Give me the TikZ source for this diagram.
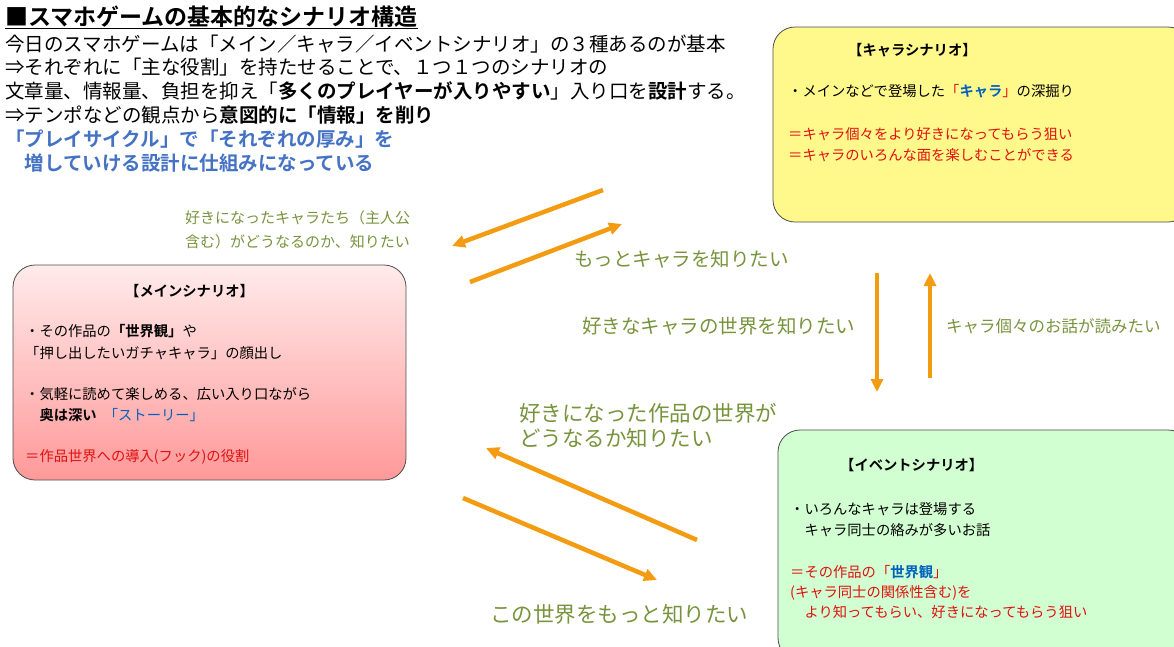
\documentclass[tikz,border=0pt]{standalone}
\usepackage{fontspec}
\setmainfont{Noto Sans CJK JP}[BoldFont={Noto Sans CJK JP Bold}]
\usepackage{tikz}
\usetikzlibrary{arrows.meta,positioning}
\definecolor{orangearr}{HTML}{F39C12}
\definecolor{greentxt}{HTML}{77933C}
\definecolor{bluetxt}{HTML}{4472C4}
\definecolor{redtxt}{HTML}{E01010}
\definecolor{bluebold}{HTML}{0060C0}
\begin{document}
\begin{tikzpicture}[x=1pt,y=-1pt,>={Triangle[length=13pt,width=12pt]}]

   \tikzstyle{txt}=[anchor=base west,inner sep=0pt,font=\fontsize{19.5}{22}\selectfont]
   \tikzstyle{btxt}=[anchor=base west,inner sep=0pt,font=\fontsize{14.3}{17}\selectfont]
   \tikzstyle{lbl}=[anchor=base west,inner sep=0pt,text=greentxt]
   \tikzstyle{flow}=[->,draw=orangearr,line width=4.5pt]
   \tikzstyle{scen}=[draw=black!70,rounded corners=22pt,line width=0.8pt]

   % page frame
   \useasboundingbox (0,0) rectangle (1174,646);

   % title and notes
   \node[txt,font=\fontsize{23}{26}\selectfont\bfseries] (title) at (5,25) {\underline{■スマホゲームの基本的なシナリオ構造}};
   \node[txt] (l1) at (5,51) {今日のスマホゲームは「メイン／キャラ／イベントシナリオ」の３種あるのが基本};
   \node[txt] (l2) at (5,74) {⇒それぞれに「主な役割」を持たせることで、１つ１つのシナリオの};
   \node[txt] (l3) at (5,98) {文章量、情報量、負担を抑え「\textbf{多くのプレイヤーが入りやすい}」入り口を\textbf{設計}する。};
   \node[txt] (l4) at (5,122) {⇒テンポなどの観点から\textbf{意図的に「情報」を削り}};
   \node[txt,text=bluetxt,font=\fontsize{19.5}{22}\selectfont\bfseries] (l5) at (5,146) {「プレイサイクル」で「それぞれの厚み」を};
   \node[txt,text=bluetxt,font=\fontsize{19.5}{22}\selectfont\bfseries] (l6) at (5,170) {\hspace{1em}増していける設計に仕組みになっている};

   % scenario boxes
   \draw[scen,fill=yellow!45] (773,27) rectangle (1190,222);
   \shade[scen,top color=red!8,bottom color=red!40] (13,265) rectangle (406,480);
   \draw[scen,fill=green!18] (778,430) rectangle (1190,660);

   % chara scenario
   \node[btxt,font=\fontsize{14.3}{17}\selectfont\bfseries] (chara) at (848,55) {【キャラシナリオ】};
   \node[btxt] (c1) at (788,96) {・メインなどで登場した{\color{redtxt}「}\textbf{\color{bluebold}キャラ}{\color{redtxt}」}の深掘り};
   \node[btxt,text=redtxt] (c2) at (788,139) {＝キャラ個々をより好きになってもらう狙い};
   \node[btxt,text=redtxt] (c3) at (788,160) {＝キャラのいろんな面を楽しむことができる};

   % main scenario
   \node[btxt,font=\fontsize{14.3}{17}\selectfont\bfseries] (main) at (125,296) {【メインシナリオ】};
   \node[btxt] (m1) at (25,336) {・その作品の\textbf{「世界観」}や};
   \node[btxt] (m2) at (25,358) {「押し出したいガチャキャラ」の顔出し};
   \node[btxt] (m3) at (25,399) {・気軽に読めて楽しめる、広い入り口ながら};
   \node[btxt] (m4) at (25,420) {\hspace{1em}\textbf{奥は深い}\hspace{0.5em}{\color{bluebold}「ストーリー」}};
   \node[btxt,text=redtxt] (m5) at (25,461) {＝作品世界への導入(フック)の役割};

   % event scenario
   \node[btxt,font=\fontsize{14.3}{17}\selectfont\bfseries] (event) at (840,470) {【イベントシナリオ】};
   \node[btxt] (e1) at (790,514) {・いろんなキャラは登場する};
   \node[btxt] (e2) at (790,535) {\hspace{1em}キャラ同士の絡みが多いお話};
   \node[btxt,text=redtxt] (e3) at (790,577) {＝その作品の「\textbf{\color{bluebold}世界観}」};
   \node[btxt,text=redtxt] (e4) at (790,597) {(キャラ同士の関係性含む)を};
   \node[btxt,text=redtxt] (e5) at (790,617) {\hspace{1em}より知ってもらい、好きになってもらう狙い};

   % arrow ends
   \coordinate (a1s) at (603,190); \coordinate (a1e) at (452,246);
   \coordinate (a2s) at (470,282); \coordinate (a2e) at (622,224);
   \coordinate (a3s) at (877,273); \coordinate (a3e) at (877,392);
   \coordinate (a4s) at (930,378); \coordinate (a4e) at (930,273);
   \coordinate (a5s) at (697,540); \coordinate (a5e) at (486,448);
   \coordinate (a6s) at (463,498); \coordinate (a6e) at (657,580);

   \draw[flow] (a1s) -- (a1e);
   \draw[flow] (a2s) -- (a2e);
   \draw[flow] (a3s) -- (a3e);
   \draw[flow] (a4s) -- (a4e);
   \draw[flow] (a5s) -- (a5e);
   \draw[flow] (a6s) -- (a6e);

   % arrow labels
   \node[lbl,font=\fontsize{15}{17}\selectfont] (t1) at (185,223) {好きになったキャラたち（主人公};
   \node[lbl,font=\fontsize{15}{17}\selectfont] (t1b) at (185,247) {含む）がどうなるのか、知りたい};
   \node[lbl,font=\fontsize{19.5}{22}\selectfont] (t2) at (574,266) {もっとキャラを知りたい};
   \node[lbl,font=\fontsize{19.5}{22}\selectfont] (t3) at (582,333) {好きなキャラの世界を知りたい};
   \node[lbl,font=\fontsize{16.5}{19}\selectfont] (t4) at (946,332) {キャラ個々のお話が読みたい};
   \node[lbl,font=\fontsize{21.5}{24}\selectfont] (t5) at (519,421) {好きになった作品の世界が};
   \node[lbl,font=\fontsize{21.5}{24}\selectfont] (t5b) at (519,446) {どうなるか知りたい};
   \node[lbl,font=\fontsize{21.5}{24}\selectfont] (t6) at (490,622) {この世界をもっと知りたい};

\end{tikzpicture}
\end{document}
